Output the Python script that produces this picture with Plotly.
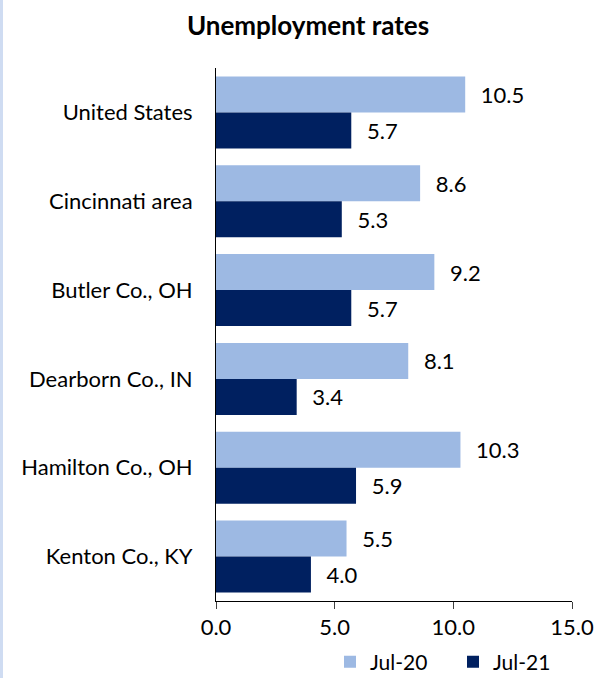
import plotly.graph_objects as go

categories = ["United States", "Cincinnati area", "Butler Co., OH", "Dearborn Co., IN",
              "Hamilton Co., OH", "Kenton Co., KY"]
jul20 = [10.5, 8.6, 9.2, 8.1, 10.3, 5.5]
jul21 = [5.7, 5.3, 5.7, 3.4, 5.9, 4.0]
series_names = ["Jul-20", "Jul-21"]
colors = ["#9DB9E3", "#002060"]
x_ticks = [0, 5, 10, 15]

FONT = "Lato"

fig = go.Figure()
for name, vals, col in zip(series_names, [jul20, jul21], colors):
    fig.add_trace(go.Bar(
        y=categories, x=vals, name=name, orientation="h",
        marker=dict(color=col, line=dict(width=0)),
        texttemplate="  \u200a%{x:.1f}", textposition="outside",
        textfont=dict(family=FONT, size=22, color="#000000"),
        cliponaxis=False,
    ))

W, H = 595, 678
L, R, T, B = 216, 23, 68, 77
pw, ph = W - L - R, H - T - B

fig.update_layout(
    width=W, height=H,
    margin=dict(l=L, r=R, t=T, b=B, autoexpand=False),
    paper_bgcolor="white", plot_bgcolor="white",
    barmode="group", bargap=0.19, bargroupgap=0,
    font=dict(family=FONT, size=22, color="#000000"),
    title=dict(text="<b>Unemployment rates</b>", x=308 / W, xanchor="center",
               y=1 - 26 / H, yanchor="middle", font=dict(family=FONT, size=26)),
    showlegend=True,
    legend=dict(orientation="h", xref="container", x=330 / W, xanchor="left",
                yref="container", y=1 - 662 / H, yanchor="middle",
                traceorder="normal", font=dict(family=FONT, size=21),
                itemwidth=30, entrywidth=78, entrywidthmode="pixels",
                bgcolor="rgba(0,0,0,0)"),
    xaxis=dict(range=[0, 15], tickvals=x_ticks, tickformat=".1f", automargin=False,
               showgrid=False, zeroline=False, showline=True, linecolor="#000000",
               linewidth=1, ticks="outside", ticklen=7, tickcolor="#404040",
               tickfont=dict(family=FONT, size=22)),
    xaxis2=dict(overlaying="x", matches="x", side="bottom", anchor="y",
                range=[0, 15], tickvals=x_ticks, automargin=False,
                showgrid=False, zeroline=False, showline=False, showticklabels=False,
                ticks="inside", ticklen=7, tickcolor="#404040"),
    yaxis=dict(autorange="reversed", showgrid=False, zeroline=False, automargin=False,
               showline=True, linecolor="#000000", linewidth=1, ticks="",
               ticklabelstandoff=18, tickfont=dict(family=FONT, size=22)),
    shapes=[dict(type="rect", xref="paper", yref="paper",
                 x0=-L / pw, x1=(-L + 3) / pw,
                 y0=-B / ph, y1=1 + T / ph,
                 fillcolor="#CFDCF2", line=dict(width=0), layer="below")],
)

fig.write_html("out.html", config={"displayModeBar": False},
               post_script="document.body.style.margin='0';")
